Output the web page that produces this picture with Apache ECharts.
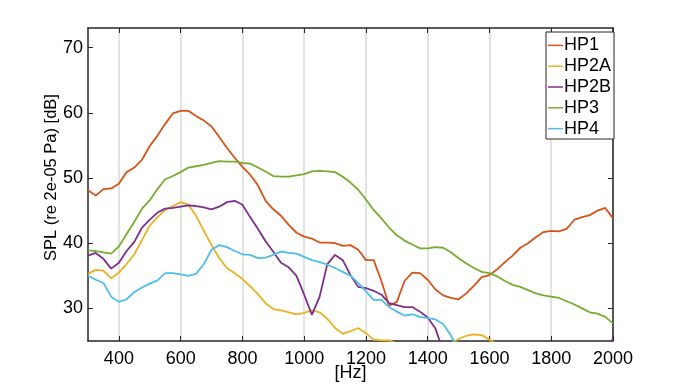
<!DOCTYPE html>
<html>
<head>
<meta charset="utf-8">
<script src="https://cdn.jsdelivr.net/npm/echarts@6/dist/echarts.min.js"></script>
<style>html,body{margin:0;padding:0;background:#fff}#c{width:680px;height:384px}</style>
</head>
<body>
<div id="c"></div>
<script>
const freqHz = [300,325,350,375,400,425,450,475,500,525,550,575,600,625,650,675,700,725,750,775,800,825,850,875,900,925,950,975,1000,1025,1050,1075,1100,1125,1150,1175,1200,1225,1250,1275,1300,1325,1350,1375,1400,1425,1450,1475,1500,1525,1550,1575,1600,1625,1650,1675,1700,1725,1750,1775,1800,1825,1850,1875,1900,1925,1950,1975,2000];

const HP1 = [48.1,47.3,48.3,48.4,49.1,50.9,51.6,52.8,54.9,56.5,58.3,59.9,60.3,60.3,59.5,58.8,57.9,56.3,54.6,53.1,51.7,50.5,48.9,46.5,45.2,44.2,42.8,41.6,41.0,40.7,40.1,40.1,40.0,39.6,39.7,39.0,37.4,37.4,34.2,30.4,31.0,34.2,35.5,35.4,34.4,32.9,32.0,31.6,31.4,32.3,33.5,34.8,35.1,36.0,37.1,38.1,39.3,40.0,40.9,41.7,41.9,41.8,42.2,43.6,44.0,44.3,45.0,45.4,43.8];

const HP2A = [35.3,35.9,35.8,34.6,35.5,36.8,38.3,40.5,42.7,44.0,45.1,45.7,46.3,45.9,44.2,41.9,39.7,37.7,36.2,35.4,34.5,33.4,32.2,30.8,29.9,29.7,29.4,29.1,29.3,29.7,29.4,28.4,27.0,26.1,26.5,27.0,26.2,25.2,25.1,25.1,24.6,null,null,null,null,null,null,24.6,25.3,25.8,26.0,25.9,25.2,24.5,null,null,null,null,null,null,null,null,null,null,null,null,null,null,null];

const HP2B = [38.1,38.5,37.6,36.1,37.0,38.8,40.2,42.4,43.6,44.7,45.3,45.4,45.6,45.8,45.7,45.5,45.2,45.6,46.3,46.5,45.9,44.0,42.2,40.3,38.7,37.0,36.3,35.0,32.1,29.0,31.8,36.8,38.2,37.4,35.1,33.3,33.1,32.7,32.1,30.8,30.5,30.2,30.2,29.5,28.6,26.9,23.5,null,null,null,null,null,null,null,null,null,null,null,null,null,null,null,null,null,null,null,null,23.0,25.4];

const HP3 = [38.9,38.8,38.6,38.4,39.5,41.4,43.3,45.3,46.6,48.3,49.8,50.3,50.9,51.6,51.8,52.0,52.3,52.6,52.5,52.5,52.3,52.2,51.6,51.0,50.3,50.2,50.2,50.4,50.6,51.0,51.1,51.0,50.9,50.2,49.3,48.2,46.7,45.1,43.8,42.4,41.2,40.4,39.8,39.2,39.2,39.4,39.3,38.6,37.7,36.9,36.2,35.6,35.4,34.9,34.2,33.6,33.3,32.8,32.3,32.0,31.8,31.6,31.1,30.6,30.0,29.4,29.2,28.7,27.7];

const HP4 = [35.0,34.4,33.9,31.8,31.0,31.4,32.5,33.2,33.8,34.3,35.4,35.4,35.2,35.0,35.3,36.8,39.0,39.7,39.4,38.8,38.3,38.2,37.7,37.8,38.2,38.7,38.5,38.4,37.9,37.4,37.1,36.7,36.2,35.6,35.0,33.9,32.6,31.3,31.3,30.2,29.5,28.9,29.1,28.7,28.5,28.3,27.6,25.9,23.5,null,null,null,null,null,null,null,null,null,null,null,null,null,null,null,null,null,null,null,null];

const xTicks = [400,600,800,1000,1200,1400,1600,1800,2000];
const yTicks = [30,40,50,60,70];
const seriesNames = ['HP1','HP2A','HP2B','HP3','HP4'];
const seriesData = [HP1, HP2A, HP2B, HP3, HP4];
const colors = ['#D95319','#EDB120','#7E2F8E','#77AC30','#4DBEEE'];

const FONT = '"Liberation Sans", Arial, Helvetica, sans-serif';
const axisCol = '#262626';

const chart = echarts.init(document.getElementById('c'), null, {renderer:'canvas'});
const option = {
  animation: false,
  backgroundColor: '#fff',
  grid: {left: 88, right: 67, top: 28, bottom: 43, containLabel: false, outerBoundsMode: 'none'},
  legend: {
    data: seriesNames,
    orient: 'vertical',
    left: 546, top: 32,
    icon: 'rect', itemWidth: 15, itemHeight: 1.5, itemGap: 0,
    backgroundColor: '#fff',
    borderColor: axisCol, borderWidth: 1, borderRadius: 0,
    padding: [3, 3, 0, 2],
    textStyle: {fontFamily: FONT, fontSize: 18, color: '#000', lineHeight: 20.8, padding: [0,0,0,-4]}
  },
  xAxis: [{
    type: 'value', min: 300, max: 2000,
    name: '[Hz]', nameLocation: 'middle', nameGap: 23, nameMoveOverlap: false,
    nameTextStyle: {fontFamily: FONT, fontSize: 18, color: '#000', verticalAlign: 'top'},
    axisLine: {show: true, onZero: false, lineStyle: {color: axisCol, width: 1.5}},
    axisTick: {show: true, inside: true, length: 5, customValues: xTicks, lineStyle: {color: axisCol, width: 1}},
    axisLabel: {customValues: xTicks, formatter: v => String(v), fontFamily: FONT, fontSize: 18, color: '#000', margin: 9},
    splitLine: {show: true, lineStyle: {color: '#dadada', width: 1.5}}
  }, {
    type: 'value', min: 300, max: 2000, position: 'top',
    axisLine: {show: true, onZero: false, lineStyle: {color: axisCol, width: 1.5}},
    axisTick: {show: true, inside: true, length: 5, customValues: xTicks, lineStyle: {color: axisCol, width: 1}},
    axisLabel: {show: false},
    splitLine: {show: false}
  }],
  yAxis: [{
    type: 'value', min: 25, max: 73,
    name: 'SPL (re 2e-05 Pa) [dB]', nameLocation: 'middle', nameGap: 28, nameRotate: 90, nameMoveOverlap: false,
    nameTextStyle: {fontFamily: FONT, fontSize: 16.5, color: '#000', padding: [0, 0, 0, 14]},
    axisLine: {show: true, onZero: false, lineStyle: {color: axisCol, width: 1.5}},
    axisTick: {show: true, inside: true, length: 5, customValues: yTicks, lineStyle: {color: axisCol, width: 1}},
    axisLabel: {customValues: yTicks, formatter: v => String(v), fontFamily: FONT, fontSize: 18, color: '#000', margin: 5},
    splitLine: {show: false}
  }, {
    type: 'value', min: 25, max: 73, position: 'right',
    axisLine: {show: true, onZero: false, lineStyle: {color: axisCol, width: 1.5}},
    axisTick: {show: true, inside: true, length: 5, customValues: yTicks, lineStyle: {color: axisCol, width: 1}},
    axisLabel: {show: false},
    splitLine: {show: false}
  }],
  series: seriesNames.map((n, i) => ({
    name: n, type: 'line', xAxisIndex: 0, yAxisIndex: 0,
    data: freqHz.map((f, k) => [f, seriesData[i][k]]),
    showSymbol: false, symbol: 'none', clip: true,
    itemStyle: {color: colors[i]},
    lineStyle: {color: colors[i], width: 1.8},
    connectNulls: false
  }))
};
chart.setOption(option);
</script>
</body>
</html>
